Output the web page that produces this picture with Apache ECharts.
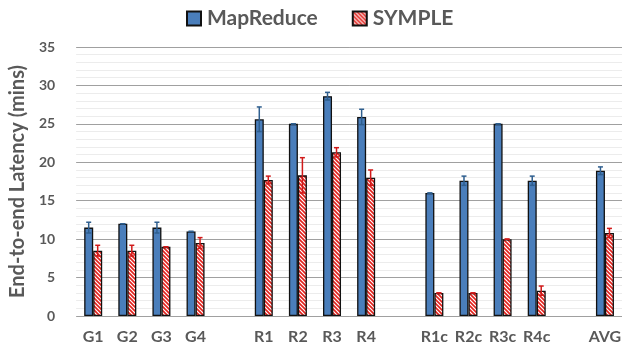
<!DOCTYPE html>
<html><head><meta charset="utf-8">
<script src="https://cdn.jsdelivr.net/npm/echarts@6/dist/echarts.min.js"></script>
<style>html,body{margin:0;padding:0;background:#fff}#c{width:624px;height:349px}</style>
</head><body><div id="c"></div>
<script>
const categories = ['G1','G2','G3','G4','','R1','R2','R3','R4','','R1c','R2c','R3c','R4c','','AVG'];
const mapReduce = [11.5,12,11.5,11,null,25.6,25,28.6,25.9,null,16,17.6,25,17.6,null,18.9];
const symple = [8.5,8.5,9,9.5,null,17.7,18.3,21.3,18,null,3,3,10,3.3,null,10.8];
const mapReduceErr = [0.7,0,0.7,0,null,1.6,0,0.5,1,null,0,0.6,0,0.6,null,0.5];
const sympleErr = [0.7,0.7,0,0.7,null,0.5,2.3,0.6,1,null,0,0,0,0.6,null,0.6];
const yTicks = [0,5,10,15,20,25,30,35];

function stripe(){
  const c=document.createElement('canvas'); c.width=4; c.height=4;
  const g=c.getContext('2d');
  g.fillStyle='#fff'; g.fillRect(0,0,4,4);
  g.strokeStyle='#e3211c'; g.lineWidth=1.6; g.beginPath();
  g.moveTo(-1,-1); g.lineTo(5,5);
  g.moveTo(3,-1); g.lineTo(5,1);
  g.moveTo(-1,3); g.lineTo(1,5);
  g.stroke();
  return c;
}
const BW = 9;
function errSeries(vals, errs, offset, color){
  const data = [];
  vals.forEach((v,i)=>{ if(v!=null) data.push([i, v, errs[i]]); });
  return {
    type:'custom', z:10, silent:true,
    encode:{x:0,y:1},
    data,
    renderItem(params, api){
      const i=api.value(0), v=api.value(1), e=api.value(2);
      const top=api.coord([i, v+e]), bot=api.coord([i, v-e]);
      const x=top[0]+offset;
      const st={stroke:color, lineWidth:1.5};
      return {type:'group', children:[
        {type:'line', shape:{x1:x,y1:top[1],x2:x,y2:bot[1]}, style:st},
        {type:'line', shape:{x1:x-2.5,y1:top[1],x2:x+2.5,y2:top[1]}, style:st},
        {type:'line', shape:{x1:x-2.5,y1:bot[1],x2:x+2.5,y2:bot[1]}, style:st}
      ]};
    }
  };
}
const chart = echarts.init(document.getElementById('c'), null, {renderer:'canvas'});
const txt = '#595959', ff = 'Lato, "Open Sans", sans-serif';
chart.setOption({
  animation:false,
  legend:{
    top:8, left:186, padding:0, itemWidth:14, itemHeight:14, itemGap:34, icon:'rect',
    data:['MapReduce','SYMPLE'],
    textStyle:{color:txt, fontFamily:ff, fontWeight:'bold', fontSize:21, padding:[0,0,0,1]}
  },
  grid:{left:71, right:0, top:47, bottom:33, containLabel:false},
  xAxis:{
    type:'category', data:categories,
    axisLine:{show:false}, axisTick:{show:false},
    axisLabel:{color:txt, fontFamily:ff, fontWeight:'bold', fontSize:16, margin:13, interval:0}
  },
  yAxis:{
    type:'value', min:0, max:35, interval:5,
    name:'End-to-end Latency (mins)', nameLocation:'middle', nameGap:48, nameRotate:90,
    nameTextStyle:{color:txt, fontFamily:ff, fontWeight:'bold', fontSize:20},
    axisLabel:{color:txt, fontFamily:ff, fontWeight:'bold', fontSize:14, margin:21},
    axisLine:{show:false}, axisTick:{show:false},
    splitLine:{lineStyle:{color:'#a0a0a0', width:1}},
    minorTick:{show:false, splitNumber:5},
    minorSplitLine:{show:true, lineStyle:{color:'#ececec', width:1}}
  },
  series:[
    {name:'MapReduce', type:'bar', barWidth:BW, barGap:'0%', data:mapReduce.map(v=>v==null?'-':v),
     itemStyle:{color:'#4a7ebb', borderColor:'#111', borderWidth:1.3}},
    {name:'SYMPLE', type:'bar', barWidth:BW, barGap:'0%', data:symple.map(v=>v==null?'-':v),
     itemStyle:{color:{image:stripe(), repeat:'repeat'}, borderColor:'#111', borderWidth:1.3}},
    errSeries(mapReduce, mapReduceErr, -BW/2, '#2f5f8f'),
    errSeries(symple, sympleErr, BW/2, '#d11a1a')
  ]
});
</script></body></html>
